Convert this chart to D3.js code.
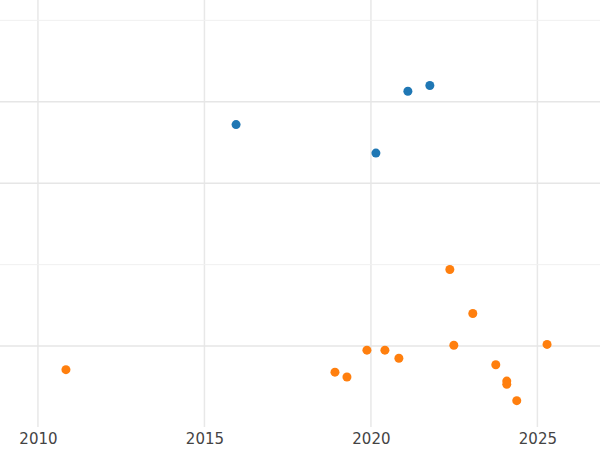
<!DOCTYPE html>
<html><head><meta charset="utf-8">
<script src="https://cdn.jsdelivr.net/npm/d3@7"></script>
<style>body{margin:0;background:#fff}</style>
</head><body>
<svg id="chart" width="600" height="450"></svg>
<script>
// values (y in arbitrary grid units)
var blueX = [2015.95, 2020.15, 2021.11, 2021.77];
var blueY = [3.72, 3.37, 4.13, 4.20];
var orangeX = [2010.84, 2018.92, 2019.28, 2019.88, 2020.42, 2020.84, 2022.37, 2022.49, 2023.06, 2023.75, 2024.08, 2024.08, 2024.38, 2025.29];
var orangeY = [0.71, 0.68, 0.62, 0.95, 0.95, 0.85, 1.94, 1.01, 1.40, 0.77, 0.57, 0.53, 0.33, 1.02];
var xTicks = [2010, 2015, 2020, 2025];
var majorY = [1, 3, 4];
var minorY = [2, 5];

var svg = d3.select('#chart');
var x = d3.scaleLinear().domain([2008.86, 2026.88]).range([0, 600]);
var y = d3.scaleLinear().domain([0, 5.25]).range([427.5, 0]);

// grid
svg.selectAll('.vg').data(xTicks).enter().append('line')
    .attr('x1', d => x(d)).attr('x2', d => x(d))
    .attr('y1', 0).attr('y2', 427)
    .attr('stroke', '#e8e8e8').attr('stroke-width', 1.5);
svg.selectAll('.mg').data(minorY).enter().append('line')
    .attr('x1', 0).attr('x2', 600)
    .attr('y1', d => y(d)).attr('y2', d => y(d))
    .attr('stroke', '#f0f0f0').attr('stroke-width', 1);
svg.selectAll('.hg').data(majorY).enter().append('line')
    .attr('x1', 0).attr('x2', 600)
    .attr('y1', d => y(d)).attr('y2', d => y(d))
    .attr('stroke', '#e6e6e6').attr('stroke-width', 1.5);

// x axis labels
var axis = svg.append('g').attr('transform', 'translate(0,427)')
    .call(d3.axisBottom(x).tickValues(xTicks).tickFormat(d3.format('d')).tickSize(0).tickPadding(6));
axis.select('.domain').remove();
axis.selectAll('text').attr('font-family', 'DejaVu Sans').attr('font-size', 15).attr('fill', '#444');

// points
function drawSeries(xs, ys, color) {
    svg.append('g').selectAll('circle').data(xs).enter().append('circle')
        .attr('cx', d => x(d)).attr('cy', (d, i) => y(ys[i]))
        .attr('r', 4.5).attr('fill', color);
}
drawSeries(blueX, blueY, '#1f77b4');
drawSeries(orangeX, orangeY, '#ff7f0e');
</script>
</body></html>
